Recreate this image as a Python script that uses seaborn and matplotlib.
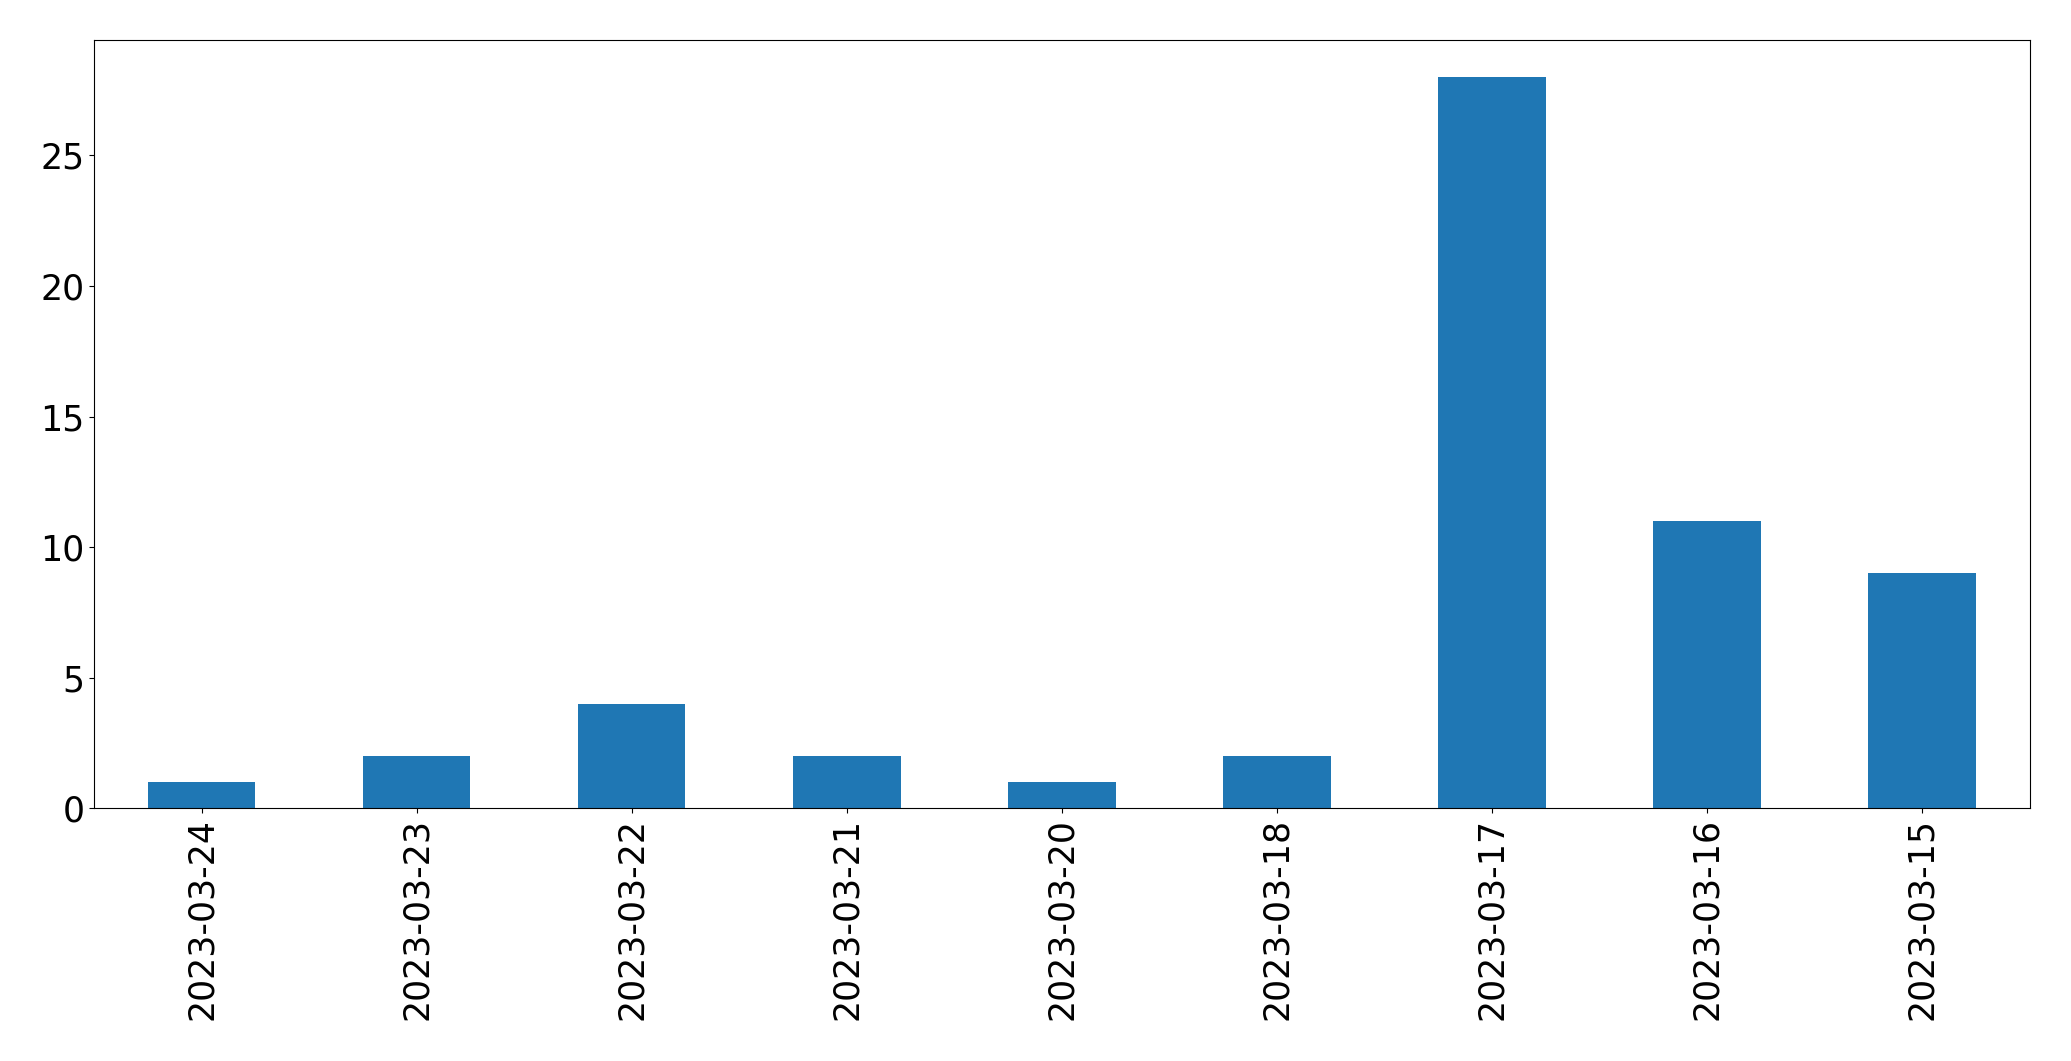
import pandas as pd
import matplotlib
matplotlib.use("Agg")
import matplotlib.pyplot as plt
import seaborn as sns

# datos del gráfico
fechas = ["2023-03-24", "2023-03-23", "2023-03-22", "2023-03-21", "2023-03-20",
          "2023-03-18", "2023-03-17", "2023-03-16", "2023-03-15"]
conteos = [1, 2, 4, 2, 1, 2, 28, 11, 9]

df = pd.DataFrame({"fecha": fechas, "conteo": conteos})

fig = plt.figure(figsize=(20.71, 10.61), dpi=100)
ax = fig.add_axes([0.0454, 0.238, 0.9346, 0.724])

sns.barplot(
    data=df,
    x="fecha",
    y="conteo",
    color="#1f77b4",
    saturation=1,
    width=0.5,
    linewidth=0,
    ax=ax
)

ax.set_xlim(-0.5, len(fechas) - 0.5)
ax.set_ylim(0, max(conteos) * 1.05)
ax.set_xlabel("")
ax.set_ylabel("")
ax.tick_params(axis="x", labelrotation=90, labelsize=25)
ax.tick_params(axis="y", labelsize=25)

fig.savefig("out.png", dpi=100)
